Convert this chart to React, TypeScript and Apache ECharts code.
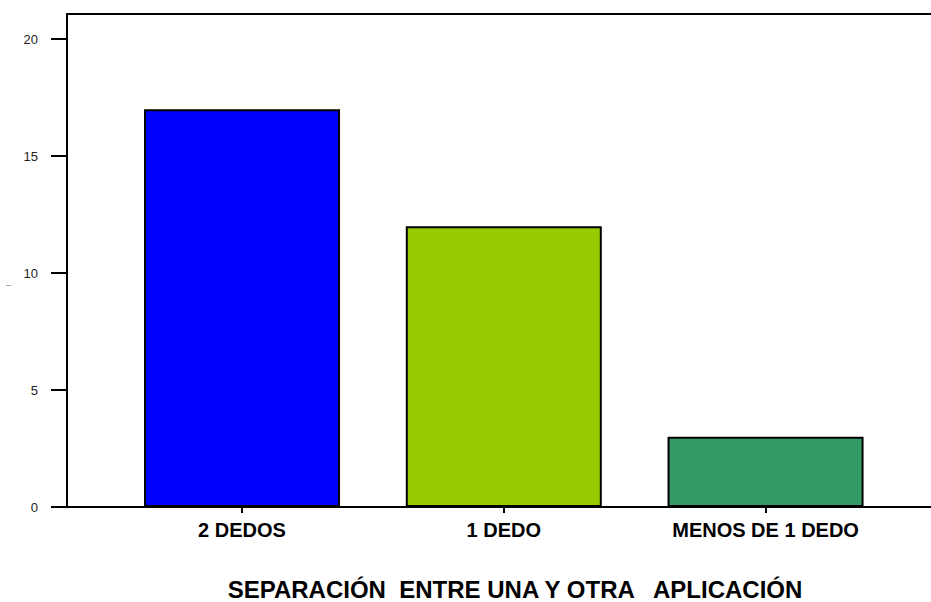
import React, { useEffect, useRef } from "react";
import * as echarts from "echarts";

const categories = ["2 DEDOS", "1 DEDO", "MENOS DE 1 DEDO"];
const values = [17, 12, 3];
const barColors = ["#0000FF", "#99CC00", "#339966"];
const yTicks = [0, 5, 10, 15, 20];
const xTitle = "SEPARACIÓN  ENTRE UNA Y OTRA   APLICACIÓN";

export default function App() {
  const ref = useRef<HTMLDivElement>(null);
  useEffect(() => {
    if (!ref.current) return;
    const chart = echarts.init(ref.current, null, { renderer: "svg" });
    const font = "Liberation Sans, Arial, sans-serif";
    chart.setOption({
      animation: false,
      backgroundColor: "#ffffff",
      grid: { left: 67, right: 0, top: 14, bottom: 95, outerBoundsMode: "none", containLabel: false },
      xAxis: [
        {
          type: "value",
          min: -0.6686,
          max: 2.632,
          splitLine: { show: false },
          axisLine: { show: true, onZero: false, lineStyle: { color: "#000", width: 2 } },
          axisTick: { show: true, customValues: [0, 1, 2], length: 6, lineStyle: { color: "#000", width: 2 } },
          axisLabel: {
            customValues: [0, 1, 2],
            formatter: (v: number) => categories[Math.round(v)] ?? "",
            fontFamily: font,
            fontWeight: "bold",
            fontSize: 20,
            color: "#000",
            margin: 13,
          },
          name: xTitle,
          nameLocation: "middle",
          nameGap: 70,
          nameTextStyle: { fontFamily: font, fontWeight: "bold", fontSize: 24, color: "#000", padding: [0, 0, 0, 32] },
        },
        {
          type: "value",
          position: "top",
          min: -0.6686,
          max: 2.632,
          splitLine: { show: false },
          axisLine: { show: true, onZero: false, lineStyle: { color: "#000", width: 2 } },
          axisTick: { show: false },
          axisLabel: { show: false },
        },
      ],
      yAxis: {
        type: "value",
        min: 0,
        max: 21.07,
        interval: 5,
        splitLine: { show: false },
        axisLine: { show: true, onZero: false, lineStyle: { color: "#000", width: 2 } },
        axisTick: { show: true, customValues: yTicks, length: 16, lineStyle: { color: "#000", width: 2 } },
        axisLabel: {
          customValues: yTicks,
          fontFamily: font,
          fontSize: 13,
          color: "#222",
          margin: 29,
        },
        name: "l",
        nameLocation: "middle",
        nameGap: 52,
        nameRotate: 90,
        nameTextStyle: { fontFamily: font, fontSize: 8, color: "#888", padding: [0, 50, 0, 0] },
      },
      series: [
        {
          type: "bar",
          xAxisIndex: 0,
          barWidth: 196,
          data: values.map((v, i) => ({
            value: [i, v],
            itemStyle: { color: barColors[i], borderColor: "#000", borderWidth: 2 },
          })),
        },
      ],
    });
    return () => chart.dispose();
  }, []);
  return <div ref={ref} style={{ width: 931, height: 602, position: "fixed", left: 0, top: 0 }} />;
}
